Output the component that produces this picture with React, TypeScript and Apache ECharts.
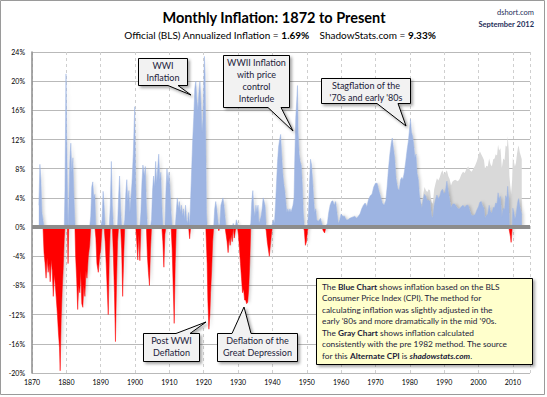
import React, { useEffect, useRef } from "react";
import * as echarts from "echarts";

// ---- Data ----
// Official (BLS) CPI annualized inflation, % — [year, value]
const official1872to1912: [number, number][] = [
  [1872.0, 3.0], [1872.3, 8.6], [1872.6, 6.5], [1872.9, 2.0], [1873.2, 1.0], [1873.5, -3.5], [1873.8, -5.0],
  [1874.1, -7.0], [1874.4, -4.2], [1874.7, -6.2], [1875.0, -5.0], [1875.3, -7.5], [1875.6, -4.5], [1875.9, -6.0],
  [1876.2, -9.5], [1876.5, -6.5], [1876.8, -8.0], [1877.1, -10.0], [1877.4, -12.0], [1877.7, -14.5], [1878.0, -16.5],
  [1878.2, -19.7], [1878.5, -12.5], [1878.8, -8.5], [1879.1, -5.5], [1879.4, -1.5], [1879.6, 5.0], [1879.9, 21.0],
  [1880.1, 13.0], [1880.3, 6.0], [1880.5, -5.0], [1880.7, 2.5], [1881.0, 9.0], [1881.3, 11.5], [1881.6, 7.5],
  [1881.9, 9.5], [1882.2, 4.5], [1882.5, 0.5], [1882.7, -4.0], [1883.0, -7.0], [1883.3, -11.3], [1883.6, -8.0],
  [1883.9, -9.0], [1884.2, -6.0], [1884.5, -10.5], [1884.8, -11.0], [1885.1, -8.0], [1885.4, -9.5], [1885.7, -6.0],
  [1886.0, -7.0], [1886.4, -4.0], [1886.8, -2.5], [1887.1, 1.5], [1887.4, 5.5], [1887.7, 6.2], [1888.0, 4.0],
  [1888.3, 4.5], [1888.6, -1.5], [1888.9, -5.0], [1889.3, -6.2], [1889.7, -4.0], [1890.0, -3.0], [1890.4, 1.0],
  [1890.7, 4.9], [1891.0, 3.0], [1891.3, -2.0], [1891.6, -5.0], [1891.9, -8.5], [1892.2, -12.0], [1892.5, -4.0],
  [1892.8, 3.0], [1893.1, 9.0], [1893.4, 3.0], [1893.7, -4.0], [1894.0, -9.0], [1894.3, -15.7], [1894.6, -8.0],
  [1894.9, -2.0], [1895.2, 4.0], [1895.5, 7.0], [1895.8, 2.5], [1896.1, -3.0], [1896.4, -9.5], [1896.7, -4.0],
  [1897.0, 1.0], [1897.3, 4.5], [1897.6, 6.5], [1897.9, 3.5], [1898.2, 5.0], [1898.5, 2.0], [1898.8, 4.0],
  [1899.1, 6.0], [1899.5, 10.0], [1899.9, 16.5], [1900.2, 6.0], [1900.5, -2.0], [1900.8, -4.5], [1901.1, -1.0],
  [1901.4, -4.6], [1901.7, 2.0], [1902.0, 6.0], [1902.3, 8.5], [1902.7, 7.0], [1903.0, 8.3], [1903.3, 3.0],
  [1903.6, -4.0], [1903.9, -6.2], [1904.2, -8.0], [1904.5, -3.0], [1904.8, 1.0], [1905.1, 5.0], [1905.4, 7.0],
  [1905.7, 5.5], [1906.0, 9.0], [1906.3, 6.0], [1906.6, 8.0], [1906.9, 10.0], [1907.2, 6.5], [1907.5, 7.5],
  [1907.8, 3.0], [1908.1, -2.0], [1908.4, -5.5], [1908.7, -1.0], [1909.0, 5.0], [1909.3, 8.0], [1909.6, 6.0],
  [1909.9, 7.5], [1910.2, 5.0], [1910.5, 2.0], [1910.8, -3.0], [1911.1, -8.0], [1911.4, -13.2], [1911.7, -5.0],
  [1912.0, 2.0],
];

const official1912to1950: [number, number][] = [
  [1912.3, 4.0], [1912.6, 2.5], [1912.9, 3.5], [1913.2, 2.0], [1913.5, 3.0], [1913.8, 1.5], [1914.1, 2.5],
  [1914.4, 1.0], [1914.7, 3.0], [1915.0, 1.0], [1915.3, 0.5], [1915.6, 2.0], [1915.9, -1.6], [1916.2, 4.0],
  [1916.5, 8.0], [1916.8, 12.0], [1917.1, 15.0], [1917.4, 19.0], [1917.7, 20.0], [1918.0, 17.5], [1918.3, 16.0],
  [1918.6, 18.5], [1918.9, 20.0], [1919.2, 17.0], [1919.5, 13.0], [1919.8, 15.0], [1920.0, 19.0], [1920.2, 23.4],
  [1920.4, 21.0], [1920.6, 12.0], [1920.8, 2.0], [1921.0, -5.0], [1921.2, -10.0], [1921.5, -14.0], [1921.8, -12.0],
  [1922.0, -9.0], [1922.3, -6.0], [1922.6, -2.0], [1922.9, 0.0], [1923.2, 2.5], [1923.5, 3.5], [1923.8, 2.5],
  [1924.1, 1.0], [1924.4, -0.5], [1924.7, 0.5], [1925.0, 3.0], [1925.3, 3.5], [1925.6, 4.0], [1925.9, 3.0],
  [1926.2, 1.5], [1926.5, -1.0], [1926.8, -2.0], [1927.1, -3.5], [1927.4, -1.5], [1927.7, -2.5], [1928.0, -1.0],
  [1928.3, -2.0], [1928.6, 0.5], [1928.9, -1.5], [1929.2, -0.5], [1929.5, 1.0], [1929.8, 0.5], [1930.1, -1.0],
  [1930.4, -3.0], [1930.7, -5.0], [1931.0, -7.0], [1931.3, -9.0], [1931.6, -8.5], [1931.9, -10.0], [1932.2, -10.0],
  [1932.5, -10.5], [1932.8, -10.3], [1933.1, -8.5], [1933.4, -5.0], [1933.7, 0.5], [1934.0, 3.5], [1934.3, 5.0],
  [1934.6, 2.5], [1934.9, 1.5], [1935.2, 3.0], [1935.5, 2.0], [1935.8, 3.0], [1936.1, 0.5], [1936.4, 1.0],
  [1936.7, 1.5], [1937.0, 2.5], [1937.3, 4.0], [1937.6, 3.5], [1937.9, 2.8], [1938.2, -0.5], [1938.5, -2.0],
  [1938.8, -3.0], [1939.1, -4.0], [1939.4, -2.5], [1939.7, -1.0], [1940.0, 0.5], [1940.3, 1.0], [1940.6, 0.5],
  [1940.9, 3.0], [1941.2, 6.0], [1941.5, 9.0], [1941.8, 11.0], [1942.1, 12.0], [1942.4, 12.7], [1942.7, 10.0],
  [1943.0, 7.5], [1943.3, 6.0], [1943.6, 5.0], [1943.9, 3.5], [1944.2, 2.0], [1944.5, 2.5], [1944.8, 2.0],
  [1945.1, 2.5], [1945.4, 2.0], [1945.7, 2.5], [1946.0, 3.0], [1946.3, 4.0], [1946.5, 9.0], [1946.8, 15.0],
  [1947.1, 17.5], [1947.3, 19.4], [1947.5, 13.0], [1947.8, 10.0], [1948.1, 9.0], [1948.4, 8.5], [1948.7, 6.0],
  [1949.0, 2.0], [1949.3, -0.5], [1949.6, -2.5], [1949.9, -2.0], [1950.2, -0.5],
];

const official1950to2012: [number, number][] = [
  [1950.5, 2.0], [1950.8, 6.0], [1951.1, 9.3], [1951.4, 8.5], [1951.7, 6.5], [1952.0, 4.0], [1952.3, 2.0],
  [1952.6, 2.5], [1952.9, 1.0], [1953.3, 0.8], [1953.7, 1.0], [1954.0, 1.2], [1954.4, 0.5], [1954.8, -0.5],
  [1955.2, -0.8], [1955.6, 0.2], [1956.0, 0.5], [1956.4, 2.0], [1956.8, 3.0], [1957.2, 3.5], [1957.6, 3.6],
  [1958.0, 3.0], [1958.4, 3.5], [1958.8, 2.0], [1959.2, 0.5], [1959.6, 1.0], [1960.0, 1.8], [1960.5, 1.5],
  [1961.0, 1.5], [1961.5, 1.0], [1962.0, 1.0], [1962.5, 1.2], [1963.0, 1.3], [1963.5, 1.4], [1964.0, 1.5],
  [1964.5, 1.2], [1965.0, 1.5], [1965.5, 1.8], [1966.0, 2.5], [1966.5, 3.0], [1967.0, 3.3], [1967.5, 2.8],
  [1968.0, 3.8], [1968.5, 4.3], [1969.0, 4.5], [1969.5, 5.5], [1970.0, 6.0], [1970.5, 6.0], [1971.0, 5.0],
  [1971.5, 4.2], [1972.0, 3.3], [1972.5, 3.0], [1973.0, 3.6], [1973.4, 5.5], [1973.8, 8.0], [1974.2, 10.0],
  [1974.6, 11.5], [1974.9, 12.2], [1975.2, 11.0], [1975.6, 9.5], [1976.0, 6.7], [1976.5, 5.3], [1976.9, 5.0],
  [1977.3, 6.5], [1977.7, 6.8], [1978.0, 6.5], [1978.4, 7.5], [1978.8, 8.9], [1979.2, 10.5], [1979.6, 11.8],
  [1979.9, 13.3], [1980.2, 14.8], [1980.5, 13.0], [1980.8, 12.5], [1981.1, 11.5], [1981.5, 9.5], [1981.8, 10.0],
  [1982.1, 7.5], [1982.5, 6.5], [1982.8, 4.5], [1983.1, 3.5], [1983.5, 2.5], [1983.9, 3.8], [1984.3, 4.5],
  [1984.7, 4.2], [1985.1, 3.6], [1985.5, 3.7], [1985.9, 3.5], [1986.3, 1.6], [1986.7, 1.2], [1987.1, 3.0],
  [1987.5, 3.8], [1987.9, 4.4], [1988.3, 3.9], [1988.7, 4.2], [1989.1, 4.9], [1989.5, 5.2], [1989.9, 4.6],
  [1990.3, 4.7], [1990.8, 6.3], [1991.2, 4.9], [1991.6, 3.8], [1992.0, 2.6], [1992.4, 3.1], [1992.8, 3.2],
  [1993.2, 3.1], [1993.6, 2.8], [1994.0, 2.5], [1994.5, 2.5], [1995.0, 2.8], [1995.5, 3.0], [1996.0, 2.7],
  [1996.5, 3.0], [1997.0, 3.0], [1997.5, 2.2], [1998.0, 1.6], [1998.5, 1.6], [1999.0, 1.7], [1999.5, 2.3],
  [2000.0, 2.8], [2000.4, 3.4], [2000.8, 3.5], [2001.2, 2.9], [2001.6, 2.6], [2001.9, 1.2], [2002.3, 1.6],
  [2002.7, 1.8], [2003.1, 3.0], [2003.5, 2.1], [2003.9, 1.9], [2004.3, 2.7], [2004.7, 2.7], [2005.0, 3.3],
  [2005.4, 3.2], [2005.7, 4.7], [2006.0, 3.9], [2006.4, 4.2], [2006.8, 1.3], [2007.2, 2.6], [2007.6, 2.4],
  [2007.9, 4.3], [2008.3, 4.0], [2008.5, 5.6], [2008.8, 3.7], [2009.0, 0.1], [2009.3, -1.3], [2009.5, -2.1],
  [2009.8, -0.2], [2010.0, 2.6], [2010.3, 2.0], [2010.6, 1.1], [2010.9, 1.5], [2011.2, 2.7], [2011.5, 3.6],
  [2011.7, 3.9], [2012.0, 2.9], [2012.3, 2.3], [2012.6, 1.7],
];

// ShadowStats alternate CPI (pre-1982 method), % — [year, value]
const shadowStats: [number, number][] = [
  [1983.0, 3.5], [1983.5, 3.0], [1983.9, 4.5], [1984.3, 5.5], [1984.7, 5.0], [1985.1, 4.8], [1985.5, 5.2],
  [1985.9, 5.0], [1986.3, 3.4], [1986.7, 3.2], [1987.1, 5.2], [1987.5, 6.0], [1987.9, 6.7], [1988.3, 6.4],
  [1988.7, 6.8], [1989.1, 7.4], [1989.5, 7.8], [1989.9, 7.2], [1990.3, 7.4], [1990.8, 7.8], [1991.2, 7.0],
  [1991.6, 6.6], [1992.0, 5.7], [1992.4, 6.2], [1992.8, 6.4], [1993.2, 6.5], [1993.6, 6.4], [1994.0, 6.3],
  [1994.5, 6.6], [1995.0, 7.2], [1995.5, 7.6], [1996.0, 7.4], [1996.5, 8.0], [1997.0, 8.3], [1997.5, 7.8],
  [1998.0, 7.6], [1998.5, 8.0], [1999.0, 8.4], [1999.5, 9.0], [2000.0, 9.8], [2000.4, 10.4], [2000.8, 10.0],
  [2001.2, 9.6], [2001.6, 9.2], [2001.9, 8.0], [2002.3, 8.4], [2002.7, 8.3], [2003.1, 9.4], [2003.5, 8.6],
  [2003.9, 8.3], [2004.3, 9.3], [2004.7, 9.4], [2005.0, 10.0], [2005.4, 9.8], [2005.7, 11.3], [2006.0, 10.5],
  [2006.4, 10.8], [2006.8, 8.1], [2007.2, 9.4], [2007.6, 9.2], [2007.9, 11.2], [2008.3, 11.0], [2008.5, 12.5],
  [2008.8, 10.6], [2009.0, 7.0], [2009.3, 5.5], [2009.5, 4.5], [2009.8, 6.5], [2010.0, 9.5], [2010.3, 9.0],
  [2010.6, 8.3], [2010.9, 8.8], [2011.2, 10.0], [2011.5, 10.9], [2011.7, 11.2], [2012.0, 10.3], [2012.3, 9.8],
  [2012.6, 9.3],
];

const yTicks = { min: -20, max: 24, step: 4 };
const xTicks = { min: 1870, max: 2015, step: 10 };

const titleText = "Monthly Inflation: 1872 to Present";
const officialRate = "1.69%";
const shadowRate = "9.33%";

const FONT = "Lato, 'Open Sans', sans-serif";

export default function App() {
  const ref = useRef<HTMLDivElement>(null);

  useEffect(() => {
    if (!ref.current) return;
    const chart = echarts.init(ref.current, undefined, { renderer: "svg" });
    const official = [...official1872to1912, ...official1912to1950, ...official1950to2012];
    const positive = official.map(([x, v]) => [x, Math.max(v, 0)]);
    const negative = official.map(([x, v]) => [x, Math.min(v, 0)]);

    const textColor = "#1c1c3a";
    const calloutStyle = {
      fill: "#f2f2f2",
      stroke: "#000",
      lineWidth: 1,
      shadowBlur: 3,
      shadowOffsetX: 2,
      shadowOffsetY: 2,
      shadowColor: "rgba(0,0,0,0.35)",
    };
    const calloutText = (x: number, y: number, text: string) => ({
      type: "text",
      x,
      y,
      z: 101,
      style: {
        text,
        fill: textColor,
        fontSize: 9,
        fontFamily: FONT,
        lineHeight: 12,
        align: "center",
        textAlign: "center",
        verticalAlign: "top",
        textVerticalAlign: "top",
      },
    });
    const callout = (points: number[][]) => ({
      type: "polygon",
      z: 100,
      shape: { points },
      style: calloutStyle,
    });

    chart.setOption({
      animation: false,
      backgroundColor: "#ffffff",
      grid: { left: 32, right: 17, top: 52, bottom: 24, containLabel: false },
      xAxis: {
        type: "value",
        min: xTicks.min,
        max: xTicks.max,
        interval: xTicks.step,
        axisLine: { show: false },
        axisTick: { show: false },
        axisLabel: {
          fontSize: 7,
          fontFamily: FONT,
          color: "#000",
          margin: 5,
          showMaxLabel: false,
          formatter: (v: number) => (v % 10 === 0 ? String(v) : ""),
        },
        splitLine: { show: true, lineStyle: { color: "#cfcfcf", type: [3, 3], width: 1 } },
      },
      yAxis: {
        type: "value",
        min: yTicks.min,
        max: yTicks.max,
        interval: yTicks.step,
        axisLine: { show: true, onZero: false, lineStyle: { color: "#8c8c8c", width: 1.5 } },
        axisTick: { show: false },
        axisLabel: { fontSize: 7, fontFamily: FONT, color: "#000", margin: 7, formatter: "{value}%" },
        splitLine: { show: true, lineStyle: { color: "#b9b9b9", width: 1 } },
      },
      series: [
        {
          name: "ShadowStats",
          type: "line",
          data: shadowStats,
          symbol: "none",
          z: 1,
          lineStyle: { width: 0, color: "#d9d9d9" },
          areaStyle: { color: "#d9d9d9", opacity: 1 },
        },
        {
          name: "Official positive",
          type: "line",
          data: positive,
          symbol: "none",
          z: 2,
          lineStyle: { width: 0.5, color: "#9db4e2" },
          areaStyle: {
            color: "#9db4e2",
            opacity: 1,
            shadowBlur: 3,
            shadowOffsetX: 2,
            shadowColor: "rgba(0,0,0,0.18)",
          },
        },
        {
          name: "Official negative",
          type: "line",
          data: negative,
          symbol: "none",
          z: 2,
          lineStyle: { width: 0.5, color: "#ff0000" },
          areaStyle: {
            color: "#ff0000",
            opacity: 1,
            shadowBlur: 3,
            shadowOffsetX: 2,
            shadowColor: "rgba(0,0,0,0.18)",
          },
          markLine: {
            silent: true,
            symbol: ["none", "none"],
            label: { show: false },
            z: 5,
            lineStyle: { color: "#8c8c8c", width: 4, type: "solid" },
            data: [{ yAxis: 0 }],
          },
        },
      ],
      graphic: [
        {
          type: "rect",
          z: 0,
          shape: { x: 0.5, y: 0.5, width: 544, height: 394 },
          style: { fill: "none", stroke: "#9a9a9a", lineWidth: 1 },
        },
        {
          type: "text",
          x: 274,
          y: 17,
          style: {
            text: titleText,
            fill: "#000",
            fontSize: 14.5,
            fontWeight: "bold",
            fontFamily: FONT,
            align: "center",
            textAlign: "center",
            verticalAlign: "middle",
            textVerticalAlign: "middle",
          },
        },
        {
          type: "text",
          x: 280,
          y: 35,
          style: {
            text: `Official (BLS) Annualized Inflation = {b|${officialRate}}    ShadowStats.com = {b|${shadowRate}}`,
            fill: "#000",
            fontSize: 10,
            fontFamily: FONT,
            align: "center",
            textAlign: "center",
            verticalAlign: "middle",
            textVerticalAlign: "middle",
            rich: {
              b: { fontSize: 10, fontWeight: "bold", fontFamily: FONT, fill: "#000" },
            },
          },
        },
        {
          type: "text",
          x: 534,
          y: 12,
          style: {
            text: "dshort.com",
            fill: "#1f2f5a",
            fontSize: 7.5,
            fontFamily: FONT,
            align: "right",
            textAlign: "right",
            verticalAlign: "middle",
            textVerticalAlign: "middle",
          },
        },
        {
          type: "text",
          x: 534,
          y: 24,
          style: {
            text: "September 2012",
            fill: "#1f2f5a",
            fontSize: 7.5,
            fontWeight: "bold",
            fontFamily: FONT,
            align: "right",
            textAlign: "right",
            verticalAlign: "middle",
            textVerticalAlign: "middle",
          },
        },
        // Callouts
        callout([[138.5, 58.5], [187.5, 58.5], [187.5, 85.5], [178, 85.5], [191, 95], [168, 85.5], [138.5, 85.5]]),
        calloutText(163, 59, "WWI\nInflation"),
        callout([[223.5, 55.5], [289.5, 55.5], [289.5, 107.5], [281, 107.5], [293, 131], [268, 107.5], [223.5, 107.5]]),
        calloutText(256.5, 56, "WWII Inflation\nwith price\ncontrol\nInterlude"),
        callout([[321.5, 78.5], [410.5, 78.5], [410.5, 103.5], [398, 103.5], [406, 126], [377, 103.5], [321.5, 103.5]]),
        calloutText(366, 79, "Stagflation of the\n'70s and early '80s"),
        callout([[143.5, 333.5], [176, 333.5], [206, 322], [190, 333.5], [199.5, 333.5], [199.5, 361.5], [143.5, 361.5]]),
        calloutText(171.5, 334, "Post WWI\nDeflation"),
        callout([[217.5, 333.5], [232, 333.5], [244, 307], [251, 333.5], [297.5, 333.5], [297.5, 361.5], [217.5, 361.5]]),
        calloutText(257.5, 334, "Deflation of the\nGreat Depression"),
        // Note box
        {
          type: "rect",
          z: 100,
          shape: { x: 316.5, y: 278.5, width: 216, height: 86 },
          style: {
            fill: "#ffffcc",
            stroke: "#000",
            lineWidth: 1,
            shadowBlur: 3,
            shadowOffsetX: 2,
            shadowOffsetY: 2,
            shadowColor: "rgba(0,0,0,0.35)",
          },
        },
        {
          type: "text",
          x: 322,
          y: 281,
          z: 101,
          style: {
            text:
              "The {b|Blue Chart} shows inflation based on the BLS\n" +
              "Consumer Price Index (CPI). The method for\n" +
              "calculating inflation was slightly adjusted in the\n" +
              "early '80s and more dramatically in the mid '90s.\n" +
              "The {b|Gray Chart} shows inflation calculated\n" +
              "consistently with the pre 1982 method. The source\n" +
              "for this {b|Alternate CPI} is {bi|shadowstats.com}.",
            fill: textColor,
            fontSize: 8.3,
            fontFamily: FONT,
            lineHeight: 11.5,
            align: "left",
            textAlign: "left",
            verticalAlign: "top",
            textVerticalAlign: "top",
            rich: {
              b: { fontSize: 8.3, fontWeight: "bold", fontFamily: FONT, lineHeight: 11.5, fill: textColor },
              bi: { fontSize: 8.3, fontWeight: "bold", fontStyle: "italic", fontFamily: FONT, lineHeight: 11.5, fill: textColor },
            },
          },
        },
      ],
    });
    return () => chart.dispose();
  }, []);

  return (
    <div
      ref={ref}
      style={{ position: "absolute", left: 0, top: 0, width: 547, height: 397, background: "#fff" }}
    />
  );
}
